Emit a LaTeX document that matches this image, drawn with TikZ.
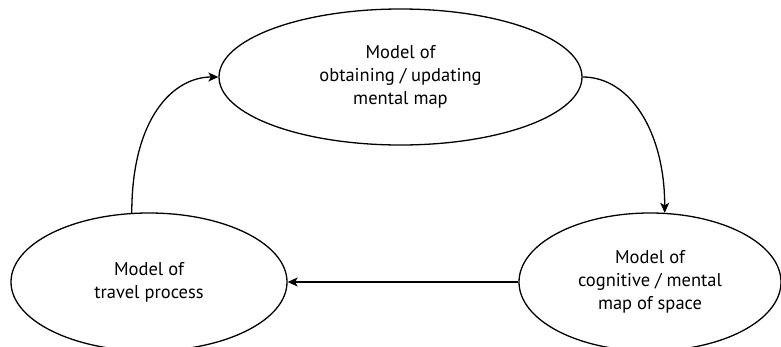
\documentclass[tikz,border=0pt]{standalone}
\usepackage{fontspec}
\setmainfont{PT Sans}
\usetikzlibrary{shapes.geometric,arrows.meta}
\tikzset{
  bubble/.style={draw, ellipse, line width=1.3pt, inner sep=0pt, align=center,
    font=\fontsize{18.5}{23}\selectfont},
  link/.style={line width=1.3pt, -{Stealth[length=10pt,width=9pt,inset=2.5pt]}}
}
\begin{document}
\begin{tikzpicture}[x=1pt,y=-1pt]
\useasboundingbox (0,0) rectangle (781,346);
\node[bubble, minimum width=363pt, minimum height=136pt] (ob) at (400.5,77) {Model of\\obtaining / updating\\mental map};
\node[bubble, minimum width=276pt, minimum height=138pt] (tp) at (149,282) {Model of\\travel process};
\node[bubble, minimum width=262pt, minimum height=138pt] (cm) at (650,282) {Model of\\cognitive / mental\\map of space};
\draw[link] (tp.104) .. controls +(0,-95) and +(-45,0) .. (ob.west);
\draw[link] (ob.east) .. controls +(48,0) and +(0,-80) .. (cm.78);
\draw[link] (cm.west) -- (tp.east);
\end{tikzpicture}
\end{document}
